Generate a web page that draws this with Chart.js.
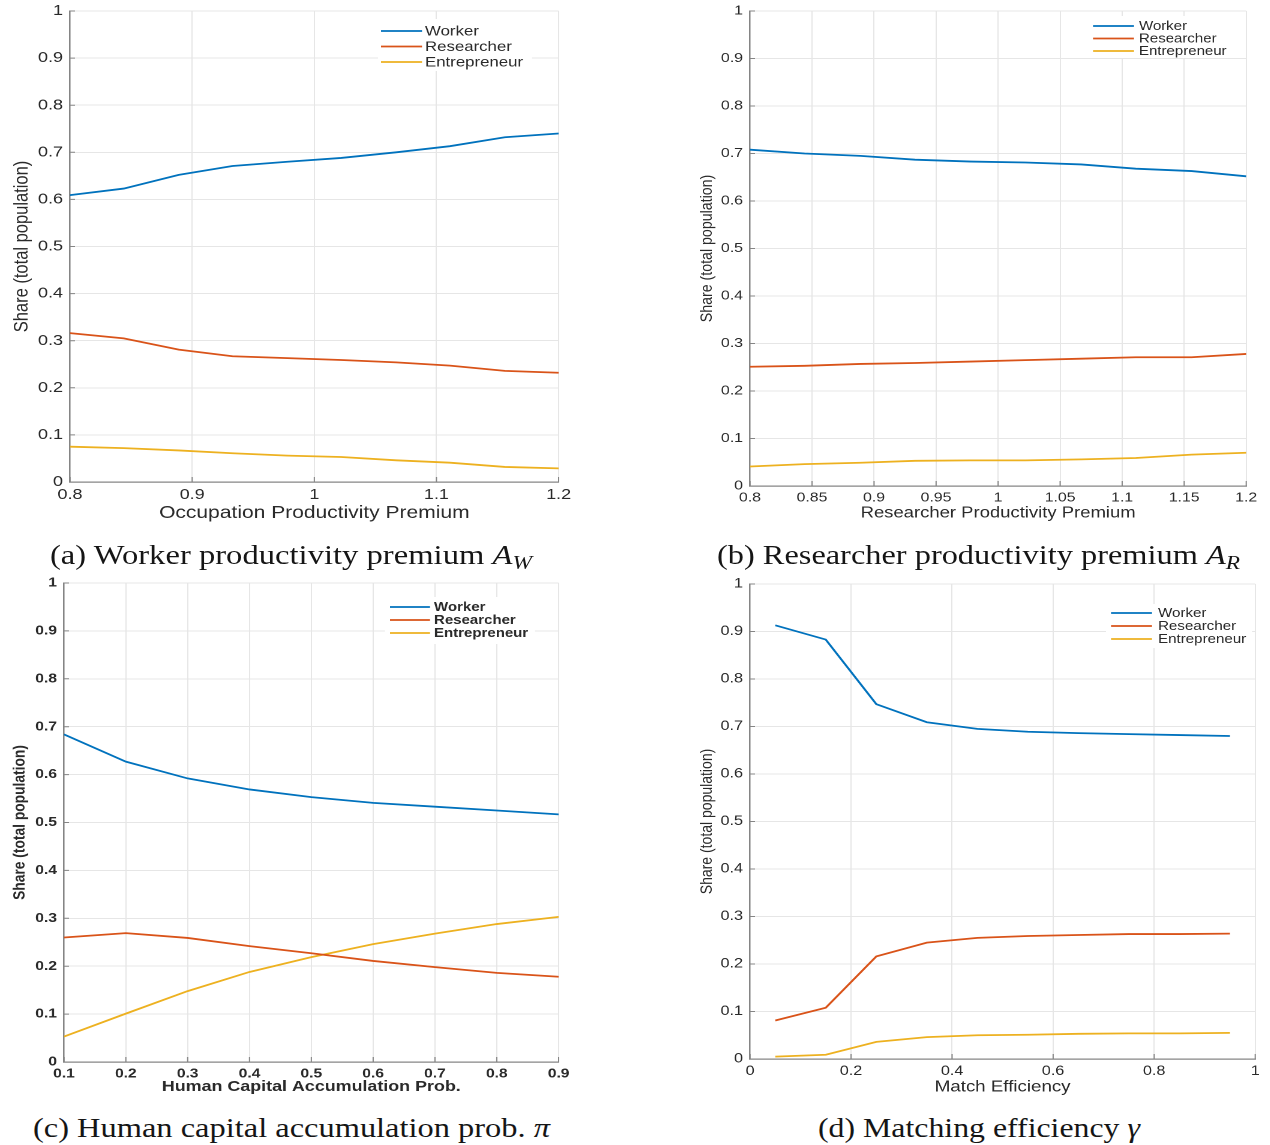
<!DOCTYPE html>
<html>
<head>
<meta charset="utf-8">
<title>Occupation shares</title>
<script src="https://cdn.jsdelivr.net/npm/chart.js@4.4.1/dist/chart.umd.min.js"></script>
<style>
  body   { margin: 0; background: #fff; width: 1270px; height: 1145px; position: relative; overflow: hidden; }
  canvas { position: absolute; transform-origin: 0 0; }
  .cap   { position: absolute; font-family: "Liberation Serif", "Times New Roman", serif; font-size: 27px;
           line-height: 30px; color: #151515; white-space: nowrap; transform-origin: 0 50%; }
  .cap i { font-style: italic; }
  .cap .sub { font-size: 0.72em; vertical-align: -0.28em; font-style: italic; }
</style>
</head>
<body>
<canvas id="chart-a"></canvas>
<canvas id="chart-b"></canvas>
<canvas id="chart-c"></canvas>
<canvas id="chart-d"></canvas>

<div class="cap" data-w="482" style="left:50px;top:540px">(a) Worker productivity premium <i>A</i><span class="sub">W</span></div>
<div class="cap" data-w="523" style="left:717px;top:540px">(b) Researcher productivity premium <i>A</i><span class="sub">R</span></div>
<div class="cap" data-w="517" style="left:33px;top:1113px">(c) Human capital accumulation prob. <i>π</i></div>
<div class="cap" data-w="322" style="left:818px;top:1113px">(d) Matching efficiency <i>γ</i></div>

<script>
"use strict";

// ─── Series + colours ──────────────────────────────────────────────────────
const SERIES  = ["Worker", "Researcher", "Entrepreneur"];
const COLOURS = ["#0072BD", "#D95319", "#EDB120"];

// ─── (a) worker productivity premium ──────────────────────────────────────
const xWorkerPremium     = [0.8, 0.844, 0.889, 0.933, 0.978, 1.022, 1.067, 1.111, 1.156, 1.2];
const workerA            = [0.609, 0.623, 0.652, 0.671, 0.680, 0.688, 0.700, 0.713, 0.732, 0.740];
const researcherA        = [0.316, 0.305, 0.281, 0.267, 0.263, 0.259, 0.254, 0.247, 0.236, 0.232];
const entrepreneurA      = [0.075, 0.072, 0.067, 0.061, 0.056, 0.053, 0.046, 0.041, 0.032, 0.029];
const xTicksA            = [0.8, 0.9, 1, 1.1, 1.2];

// ─── (b) researcher productivity premium ──────────────────────────────────
const xResearcherPremium = [0.8, 0.844, 0.889, 0.933, 0.978, 1.022, 1.067, 1.111, 1.156, 1.2];
const workerB            = [0.708, 0.700, 0.695, 0.687, 0.683, 0.681, 0.677, 0.668, 0.663, 0.652];
const researcherB        = [0.251, 0.253, 0.257, 0.259, 0.262, 0.265, 0.268, 0.271, 0.271, 0.278];
const entrepreneurB      = [0.041, 0.046, 0.049, 0.053, 0.054, 0.054, 0.056, 0.059, 0.066, 0.070];
const xTicksB            = [0.8, 0.85, 0.9, 0.95, 1, 1.05, 1.1, 1.15, 1.2];

// ─── (c) human capital accumulation probability ───────────────────────────
const xAccumProb         = [0.1, 0.2, 0.3, 0.4, 0.5, 0.6, 0.7, 0.8, 0.9];
const workerC            = [0.684, 0.627, 0.592, 0.569, 0.553, 0.541, 0.533, 0.525, 0.517];
const researcherC        = [0.260, 0.269, 0.259, 0.242, 0.227, 0.211, 0.198, 0.186, 0.178];
const entrepreneurC      = [0.053, 0.101, 0.148, 0.188, 0.219, 0.246, 0.268, 0.288, 0.303];
const xTicksC            = [0.1, 0.2, 0.3, 0.4, 0.5, 0.6, 0.7, 0.8, 0.9];

// ─── (d) matching efficiency ──────────────────────────────────────────────
const xMatchEff          = [0.05, 0.15, 0.25, 0.35, 0.45, 0.55, 0.65, 0.75, 0.85, 0.95];
const workerD            = [0.913, 0.883, 0.747, 0.709, 0.695, 0.689, 0.686, 0.684, 0.682, 0.680];
const researcherD        = [0.081, 0.108, 0.216, 0.245, 0.255, 0.259, 0.261, 0.263, 0.263, 0.264];
const entrepreneurD      = [0.005, 0.009, 0.036, 0.046, 0.050, 0.051, 0.053, 0.054, 0.054, 0.055];
const xTicksD            = [0, 0.2, 0.4, 0.6, 0.8, 1];

const yTicks             = [0, 0.1, 0.2, 0.3, 0.4, 0.5, 0.6, 0.7, 0.8, 0.9, 1];

// ─── Look ──────────────────────────────────────────────────────────────────
const STRETCH = 1.2;              // figure is exported wider than tall
const FAMILY  = "'Liberation Sans', Helvetica, Arial, sans-serif";
const TXT     = "#2a2a2a";
const GRID    = "#e6e6e6";
const AXIS    = "#858585";

// inward tick marks on the left and bottom axes
const tickMarks = {
  id: "tickMarks",
  afterDatasetsDraw(chart) {
    const { ctx, chartArea: a, scales: { x, y } } = chart;
    ctx.save();
    ctx.strokeStyle = AXIS;
    ctx.lineWidth   = 1;
    ctx.beginPath();
    y.ticks.forEach(t => {
      const py = y.getPixelForValue(t.value);
      ctx.moveTo(a.left, py);
      ctx.lineTo(a.left + 5 / STRETCH, py);
    });
    x.ticks.forEach(t => {
      const px = x.getPixelForValue(t.value);
      ctx.moveTo(px, a.bottom);
      ctx.lineTo(px, a.bottom - 5);
    });
    ctx.stroke();
    ctx.restore();
  },
};

// boxed legend placed inside the axes, top right
const boxLegend = {
  id: "boxLegend",
  afterDraw(chart, _args, o) {
    const { ctx } = chart;
    ctx.save();
    ctx.fillStyle = "#fff";
    ctx.fillRect(o.box[0] / STRETCH, o.box[1], (o.box[2] - o.box[0]) / STRETCH, o.box[3] - o.box[1]);
    ctx.font         = `${o.bold ? "bold " : ""}${o.size}px ${FAMILY}`;
    ctx.textBaseline = "middle";
    ctx.lineWidth    = 1.8;
    chart.data.datasets.forEach((ds, i) => {
      const ry = o.rows[i];
      ctx.strokeStyle = ds.borderColor;
      ctx.beginPath();
      ctx.moveTo(o.line[0] / STRETCH, ry);
      ctx.lineTo(o.line[1] / STRETCH, ry);
      ctx.stroke();
      ctx.fillStyle = TXT;
      ctx.fillText(ds.label, o.text / STRETCH, ry + 0.5);
    });
    ctx.restore();
  },
};

function fmtTick(v) {
  return String(+v.toFixed(2));
}

// p holds page-pixel geometry of one panel
function makePanel(p) {
  const cv = document.getElementById(p.id);
  const w  = p.w / STRETCH;
  cv.width  = w;
  cv.height = p.h;
  cv.style.left      = p.x + "px";
  cv.style.top       = p.y + "px";
  cv.style.transform = `scaleX(${STRETCH})`;

  const weight = p.bold ? "bold" : "normal";

  return new Chart(cv, {
    type: "line",
    data: {
      datasets: SERIES.map((name, i) => ({
        label:       name,
        data:        p.xs.map((xv, j) => ({ x: xv, y: p.ys[i][j] })),
        borderColor: COLOURS[i],
        borderWidth: 1.8,
        pointRadius: 0,
        tension:     0,
        fill:        false,
      })),
    },
    options: {
      responsive:       false,
      animation:        false,
      devicePixelRatio: 2,
      layout: { padding: { left: 0, top: p.top, right: p.right / STRETCH, bottom: 0 } },
      plugins: {
        legend:    { display: false },
        tooltip:   { enabled: false },
        boxLegend: p.legend,
      },
      scales: {
        x: {
          type: "linear",
          min:  p.xMin,
          max:  p.xMax,
          afterBuildTicks: s => { s.ticks = p.xTicks.map(v => ({ value: v })); },
          afterFit: s => {
            s.height = p.xAxisH;
            s.paddingLeft = s.paddingRight = 0;
          },
          grid:   { color: GRID, lineWidth: 1, drawTicks: false },
          border: { color: AXIS, width: 1.2 },
          ticks:  {
            autoSkip: false, maxRotation: 0, padding: 4, color: TXT,
            font: { family: FAMILY, size: p.tickSize, weight },
            callback: fmtTick,
          },
          title: {
            display: true, text: p.xTitle, color: TXT,
            font:    { family: FAMILY, size: p.xTitleSize, weight, lineHeight: 1.2 },
            padding: { top: 0, bottom: p.xTitlePad },
          },
        },
        y: {
          type: "linear",
          min:  0,
          max:  1,
          afterBuildTicks: s => { s.ticks = yTicks.map(v => ({ value: v })); },
          afterFit: s => {
            s.width = p.left / STRETCH;
            s.paddingTop = s.paddingBottom = 0;
          },
          grid:   { color: GRID, lineWidth: 1, drawTicks: false },
          border: { color: AXIS, width: 1.2 },
          ticks:  {
            autoSkip: false, padding: 7 / STRETCH, color: TXT,
            font: { family: FAMILY, size: p.tickSize, weight },
            callback: fmtTick,
          },
          title: {
            display: true, text: "Share (total population)", color: TXT,
            font:    { family: FAMILY, size: p.yTitleSize, weight, lineHeight: 1.2 },
            padding: { top: p.yTitlePad, bottom: 0 },
          },
        },
      },
    },
    plugins: [tickMarks, boxLegend],
  });
}

// ─── Panels ───────────────────────────────────────────────────────────────
makePanel({
  id: "chart-a", x: 0, y: 0, w: 610, h: 530,
  left: 70, top: 11, right: 51, xAxisH: 48,
  xs: xWorkerPremium, ys: [workerA, researcherA, entrepreneurA],
  xMin: 0.8, xMax: 1.2, xTicks: xTicksA,
  xTitle: "Occupation Productivity Premium",
  tickSize: 15, xTitleSize: 17.5, xTitlePad: 6.5, yTitleSize: 16.5, yTitlePad: 8.4,
  legend: { box: [378, 19, 532, 71], line: [381, 422], text: 425, rows: [31, 46.5, 62], size: 14 },
});

makePanel({
  id: "chart-b", x: 680, y: 0, w: 590, h: 530,
  left: 70, top: 11, right: 23, xAxisH: 44,
  xs: xResearcherPremium, ys: [workerB, researcherB, entrepreneurB],
  xMin: 0.8, xMax: 1.2, xTicks: xTicksB,
  xTitle: "Researcher Productivity Premium",
  tickSize: 13.2, xTitleSize: 15.4, xTitlePad: 7.7, yTitleSize: 14.2, yTitlePad: 14,
  legend: { box: [409, 16, 548, 58], line: [413, 454], text: 459, rows: [26, 38.5, 51], size: 12.5 },
});

makePanel({
  id: "chart-c", x: 0, y: 570, w: 610, h: 540,
  left: 64, top: 13, right: 51, xAxisH: 48,
  xs: xAccumProb, ys: [workerC, researcherC, entrepreneurC],
  xMin: 0.1, xMax: 0.9, xTicks: xTicksC,
  xTitle: "Human Capital Accumulation Prob.", bold: true,
  tickSize: 13, xTitleSize: 14.9, xTitlePad: 14, yTitleSize: 13.8, yTitlePad: 8.4,
  legend: { box: [385, 27, 535, 74], line: [390, 430], text: 434, rows: [37, 50, 63], size: 12.5, bold: true },
});

makePanel({
  id: "chart-d", x: 680, y: 570, w: 590, h: 540,
  left: 70, top: 14, right: 14, xAxisH: 51,
  xs: xMatchEff, ys: [workerD, researcherD, entrepreneurD],
  xMin: 0, xMax: 1, xTicks: xTicksD,
  xTitle: "Match Efficiency",
  tickSize: 13.5, xTitleSize: 15.6, xTitlePad: 13.6, yTitleSize: 14, yTitlePad: 14,
  legend: { box: [426, 34, 572, 78], line: [431, 472], text: 478, rows: [43, 56, 69], size: 12.6 },
});

// ─── Captions: fit each to its printed width ─────────────────────────────
document.querySelectorAll(".cap").forEach(el => {
  const target = +el.dataset.w;
  const w      = el.getBoundingClientRect().width;
  el.style.transform = `scaleX(${target / w})`;
});
</script>
</body>
</html>
